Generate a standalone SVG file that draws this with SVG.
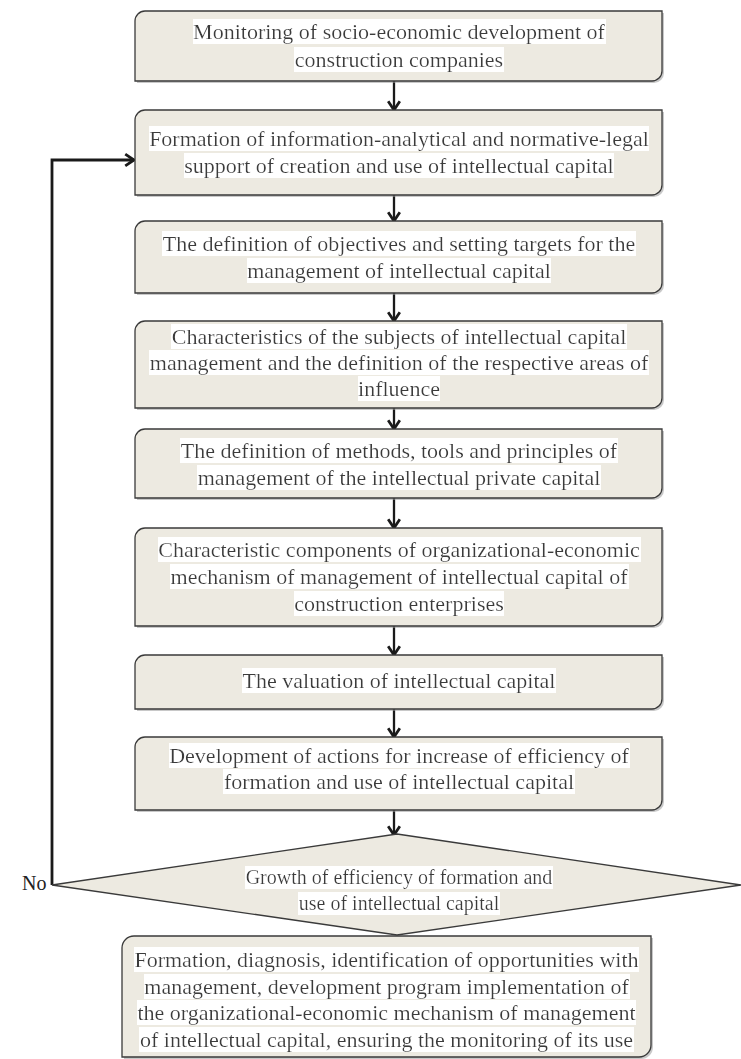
<svg xmlns="http://www.w3.org/2000/svg" width="741" height="1059" viewBox="0 0 741 1059">
<style>
.box{fill:#edeae1;stroke:#3a3a3a;stroke-width:1.3}
.sh{fill:#9a9a9a;opacity:0.55}
.t{font-family:"Liberation Serif","Times New Roman",serif;font-size:22px;fill:#3a3a3a;text-anchor:middle}
.td{font-family:"Liberation Serif","Times New Roman",serif;font-size:20px;fill:#3a3a3a;text-anchor:middle}
.no{font-family:"Liberation Serif","Times New Roman",serif;font-size:20px;fill:#222}
.c{fill:none;stroke:#1a1a1a;stroke-width:2.3}
.loop{fill:none;stroke:#1a1a1a;stroke-width:2.8}
</style>
<defs>
<filter id="hl" x="0" y="0" width="1" height="1">
<feFlood flood-color="#ffffff"/>
<feMerge><feMergeNode/><feMergeNode in="SourceGraphic"/></feMerge>
</filter>
<marker id="ah" markerUnits="userSpaceOnUse" markerWidth="14" markerHeight="14" viewBox="0 0 10 12" refX="8.5" refY="6" orient="auto">
<path d="M1,1 L8.5,6 L1,11" fill="none" stroke="#1a1a1a" stroke-width="2.4"/>
</marker>
</defs>

<g id="connectors">
<line class="c" x1="394" y1="81" x2="394" y2="110" marker-end="url(#ah)"/>
<line class="c" x1="394" y1="195" x2="394" y2="221" marker-end="url(#ah)"/>
<line class="c" x1="394" y1="293" x2="394" y2="321" marker-end="url(#ah)"/>
<line class="c" x1="394" y1="408" x2="394" y2="429" marker-end="url(#ah)"/>
<line class="c" x1="394" y1="498" x2="394" y2="528" marker-end="url(#ah)"/>
<line class="c" x1="394" y1="626" x2="394" y2="655" marker-end="url(#ah)"/>
<line class="c" x1="394" y1="709" x2="394" y2="737" marker-end="url(#ah)"/>
<line class="c" x1="394" y1="810" x2="394" y2="835" marker-end="url(#ah)"/>
<polyline class="loop" points="52,885 52,160 134,160" marker-end="url(#ah)"/>
<text class="no" x="22" y="890">No</text>
</g>

<g id="n1">
<path class="sh" transform="translate(2,2)" d="M135,21 A10,10 0 0 1 145,11 H662 V71 A10,10 0 0 1 652,81 H135 Z"/>
<path class="box" d="M135,21 A10,10 0 0 1 145,11 H662 V71 A10,10 0 0 1 652,81 H135 Z"/>
<text class="t" filter="url(#hl)" x="399" y="39">Monitoring of socio-economic development of</text>
<text class="t" filter="url(#hl)" x="399" y="67">construction companies</text>
</g>

<g id="n2">
<path class="sh" transform="translate(2,2)" d="M135,120 A10,10 0 0 1 145,110 H662 V185 A10,10 0 0 1 652,195 H135 Z"/>
<path class="box" d="M135,120 A10,10 0 0 1 145,110 H662 V185 A10,10 0 0 1 652,195 H135 Z"/>
<text class="t" filter="url(#hl)" x="399" y="146">Formation of information-analytical and normative-legal</text>
<text class="t" filter="url(#hl)" x="399" y="173">support of creation and use of intellectual capital</text>
</g>

<g id="n3">
<path class="sh" transform="translate(2,2)" d="M135,231 A10,10 0 0 1 145,221 H662 V283 A10,10 0 0 1 652,293 H135 Z"/>
<path class="box" d="M135,231 A10,10 0 0 1 145,221 H662 V283 A10,10 0 0 1 652,293 H135 Z"/>
<text class="t" filter="url(#hl)" x="399" y="251">The definition of objectives and setting targets for the</text>
<text class="t" filter="url(#hl)" x="399" y="278">management of intellectual capital</text>
</g>

<g id="n4">
<path class="sh" transform="translate(2,2)" d="M135,331 A10,10 0 0 1 145,321 H662 V398 A10,10 0 0 1 652,408 H135 Z"/>
<path class="box" d="M135,331 A10,10 0 0 1 145,321 H662 V398 A10,10 0 0 1 652,408 H135 Z"/>
<text class="t" filter="url(#hl)" x="399" y="344">Characteristics of the subjects of intellectual capital</text>
<text class="t" filter="url(#hl)" x="399" y="370">management and the definition of the respective areas of</text>
<text class="t" filter="url(#hl)" x="399" y="396">influence</text>
</g>

<g id="n5">
<path class="sh" transform="translate(2,2)" d="M135,439 A10,10 0 0 1 145,429 H662 V488 A10,10 0 0 1 652,498 H135 Z"/>
<path class="box" d="M135,439 A10,10 0 0 1 145,429 H662 V488 A10,10 0 0 1 652,498 H135 Z"/>
<text class="t" filter="url(#hl)" x="399" y="458">The definition of methods, tools and principles of</text>
<text class="t" filter="url(#hl)" x="399" y="485">management of the intellectual private capital</text>
</g>

<g id="n6">
<path class="sh" transform="translate(2,2)" d="M135,538 A10,10 0 0 1 145,528 H662 V616 A10,10 0 0 1 652,626 H135 Z"/>
<path class="box" d="M135,538 A10,10 0 0 1 145,528 H662 V616 A10,10 0 0 1 652,626 H135 Z"/>
<text class="t" filter="url(#hl)" x="399" y="557">Characteristic components of organizational-economic</text>
<text class="t" filter="url(#hl)" x="399" y="584">mechanism of management of intellectual capital of</text>
<text class="t" filter="url(#hl)" x="399" y="611">construction enterprises</text>
</g>

<g id="n7">
<path class="sh" transform="translate(2,2)" d="M135,665 A10,10 0 0 1 145,655 H662 V699 A10,10 0 0 1 652,709 H135 Z"/>
<path class="box" d="M135,665 A10,10 0 0 1 145,655 H662 V699 A10,10 0 0 1 652,709 H135 Z"/>
<text class="t" filter="url(#hl)" x="399" y="688">The valuation of intellectual capital</text>
</g>

<g id="n8">
<path class="sh" transform="translate(2,2)" d="M135,747 A10,10 0 0 1 145,737 H662 V800 A10,10 0 0 1 652,810 H135 Z"/>
<path class="box" d="M135,747 A10,10 0 0 1 145,737 H662 V800 A10,10 0 0 1 652,810 H135 Z"/>
<text class="t" filter="url(#hl)" x="399" y="763">Development of actions for increase of efficiency of</text>
<text class="t" filter="url(#hl)" x="399" y="789">formation and use of intellectual capital</text>
</g>

<g id="decision">
<polygon class="box" points="397,834 741,885 397,935 52,885"/>
<text class="td" filter="url(#hl)" x="399" y="884">Growth of efficiency of formation and</text>
<text class="td" filter="url(#hl)" x="399" y="910">use of intellectual capital</text>
</g>

<g id="n9">
<path class="sh" transform="translate(2,2)" d="M122,948 A12,12 0 0 1 134,936 H651 V1045 A12,12 0 0 1 639,1057 H122 Z"/>
<path class="box" d="M122,948 A12,12 0 0 1 134,936 H651 V1045 A12,12 0 0 1 639,1057 H122 Z"/>
<text class="t" filter="url(#hl)" x="386.5" y="967">Formation, diagnosis, identification of opportunities with</text>
<text class="t" filter="url(#hl)" x="386.5" y="994">management, development program implementation of</text>
<text class="t" filter="url(#hl)" x="386.5" y="1020">the organizational-economic mechanism of management</text>
<text class="t" filter="url(#hl)" x="386.5" y="1047">of intellectual capital, ensuring the monitoring of its use</text>
</g>
</svg>
